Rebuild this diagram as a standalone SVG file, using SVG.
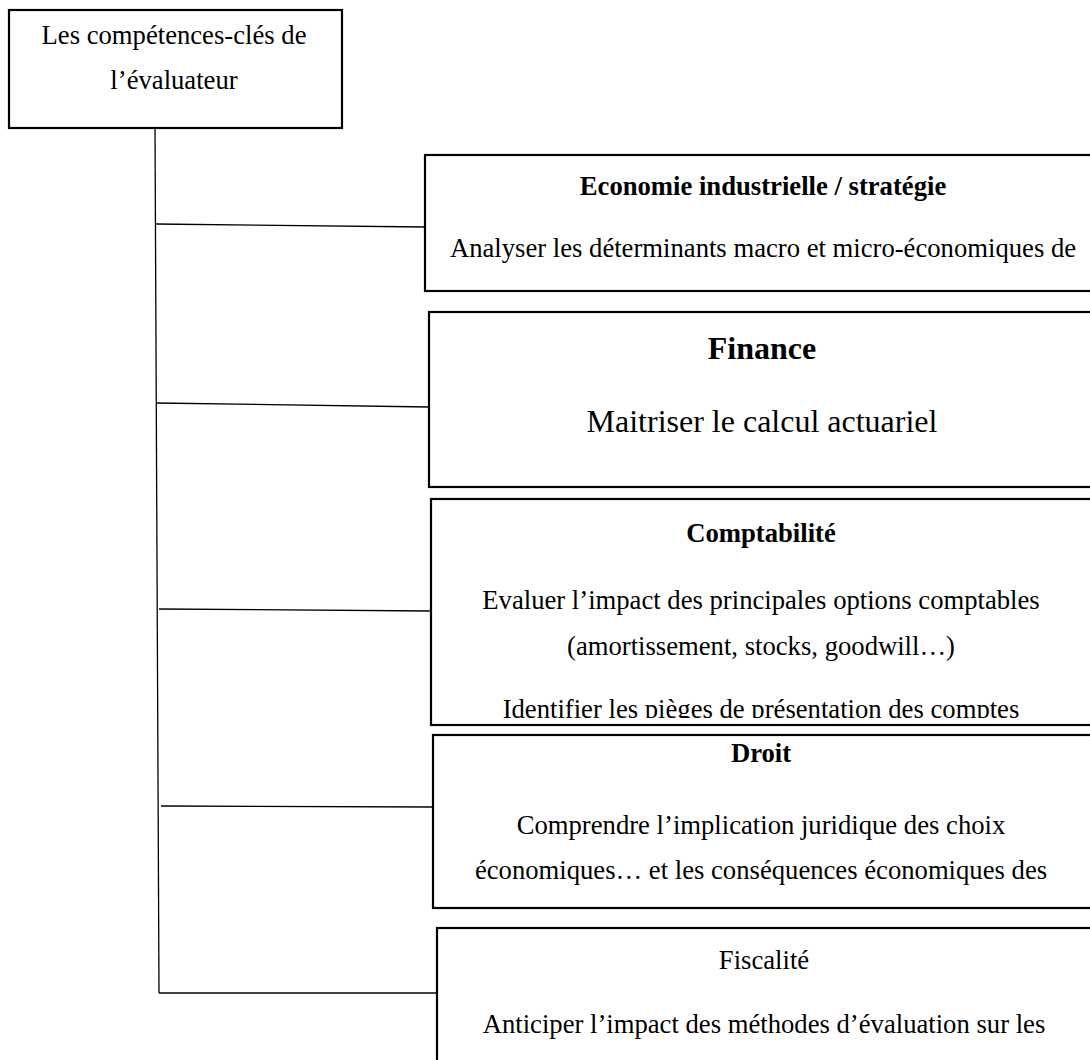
<svg xmlns="http://www.w3.org/2000/svg" width="1090" height="1060" viewBox="0 0 1090 1060">
<style>
.box{fill:#ffffff;stroke:#000000;stroke-width:2.2}
.con{stroke:#000000;stroke-width:1.3;fill:none}
text{font-family:"Liberation Serif","Times New Roman",serif;fill:#000000;text-anchor:middle;font-size:26.67px}
.b{font-weight:bold}
.big{font-size:32px}
</style>
<defs>
<clipPath id="clip3"><rect x="431" y="500" width="680" height="218"/></clipPath>
</defs>
<rect width="1090" height="1060" fill="#ffffff"/>
<g id="connectors">
<line class="con" x1="155" y1="128" x2="159" y2="993"/>
<line class="con" x1="156" y1="224" x2="425" y2="227"/>
<line class="con" x1="156" y1="403" x2="429" y2="407"/>
<line class="con" x1="159" y1="609" x2="431" y2="611"/>
<line class="con" x1="161" y1="806" x2="434" y2="807"/>
<line class="con" x1="159" y1="993" x2="437" y2="993"/>
</g>
<g id="root">
<rect class="box" x="9" y="10" width="333" height="118"/>
<text x="174" y="44">Les compétences-clés de</text>
<text x="174" y="89">l’évaluateur</text>
</g>
<g id="economie">
<rect class="box" x="425" y="155" width="680" height="136"/>
<text class="b" x="763" y="195">Economie industrielle / stratégie</text>
<text x="763" y="257">Analyser les déterminants macro et micro-économiques de</text>
</g>
<g id="finance">
<rect class="box" x="429" y="312" width="680" height="175"/>
<text class="b big" x="762" y="359">Finance</text>
<text class="big" x="762" y="432">Maitriser le calcul actuariel</text>
</g>
<g id="comptabilite">
<rect class="box" x="431" y="499" width="680" height="226"/>
<g clip-path="url(#clip3)">
<text class="b" x="761" y="542">Comptabilité</text>
<text x="761" y="609">Evaluer l’impact des principales options comptables</text>
<text x="761" y="655">(amortissement, stocks, goodwill…)</text>
<text x="761" y="718">Identifier les pièges de présentation des comptes</text>
</g>
</g>
<g id="droit">
<rect class="box" x="433" y="735" width="680" height="173"/>
<text class="b" x="761" y="762">Droit</text>
<text x="761" y="834">Comprendre l’implication juridique des choix</text>
<text x="761" y="879">économiques… et les conséquences économiques des</text>
</g>
<g id="fiscalite">
<rect class="box" x="437" y="928" width="680" height="160"/>
<text x="764" y="969">Fiscalité</text>
<text x="764" y="1033">Anticiper l’impact des méthodes d’évaluation sur les</text>
</g>
</svg>
